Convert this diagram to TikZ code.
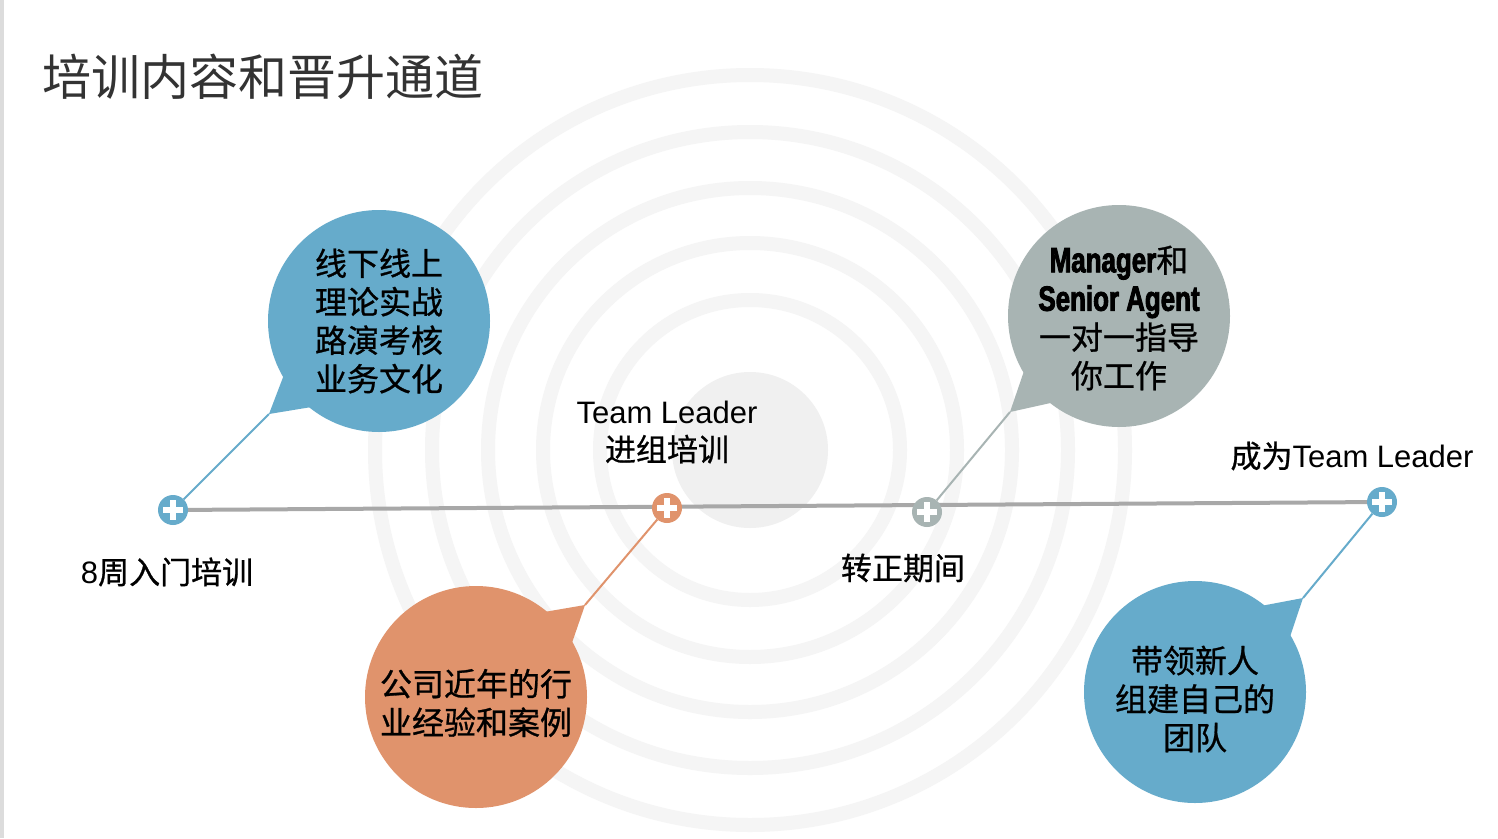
\documentclass[tikz,border=0pt]{standalone}
\usepackage{fontspec}
\setmainfont{Liberation Sans}
\newfontfamily\cjk[FakeBold=0.8]{Noto Sans CJK SC}
\newfontfamily\titlefont{Noto Sans CJK SC}
\newfontfamily\impactfont[FakeStretch=0.74,FakeBold=2.5]{Liberation Sans}
\usetikzlibrary{calc}

\definecolor{stageblue}{HTML}{66ABCB}
\definecolor{stageorange}{HTML}{E0936C}
\definecolor{stagegray}{HTML}{A8B4B3}
\definecolor{linegray}{HTML}{A8A8A8}
\definecolor{ringgray}{HTML}{F5F5F5}
\definecolor{diskgray}{HTML}{F0F0F0}
\definecolor{edgegray}{HTML}{DCDCDC}
\definecolor{titlegray}{HTML}{333333}

\begin{document}
\begin{tikzpicture}[x=1pt, y=-1pt,
    ring/.style={draw=ringgray, line width=14pt},
    stagedot/.style={circle, fill=#1, minimum size=30pt, inner sep=0pt,
      path picture={
        \fill[white] ([xshift=-10pt,yshift=-3pt]path picture bounding box.center) rectangle ++(20pt,6pt);
        \fill[white] ([xshift=-3pt,yshift=-10pt]path picture bounding box.center) rectangle ++(6pt,20pt);}},
    bubble/.style={circle, fill=#1, minimum size=222pt, inner sep=0pt},
    bubbletext/.style={align=center, inner sep=0pt, font=\cjk\fontsize{32}{38.5}\selectfont},
    link/.style={draw=#1, line width=2pt},
    stagelabel/.style={font=\fontsize{31}{38}\selectfont, align=center, inner sep=0pt}]

    \useasboundingbox (0,0) rectangle (1498,838);
    \fill[white] (0,0) rectangle (1498,838);
    \fill[edgegray] (0,0) rectangle (4,838);

    % rings behind the timeline
    \coordinate (hub) at (750,450);
    \fill[diskgray] (hub) circle[radius=78pt];
    \foreach \r in {150,207,262,318,375}
      \draw[ring] (hub) circle[radius=\r pt];

    \node[font=\titlefont\fontsize{49}{49}\selectfont, text=titlegray, anchor=west, inner sep=0pt] (title) at (42,77) {培训内容和晋升通道};

    % timeline
    \node[stagedot=stageblue] (m1) at (173,510) {};
    \node[stagedot=stageblue] (m4) at (1382,502) {};
    \draw[linegray, line width=4pt] (m1) -- (m4);
    \node[stagedot=stageorange] (m2) at (667,508) {};
    \node[stagedot=stagegray] (m3) at (927,512) {};

    \coordinate (t1) at (269,414);
    \coordinate (t2) at (585,605);
    \coordinate (t3) at (1010,412);
    \coordinate (t4) at (1303,598);

    % bubbles
    \node[bubble=stageblue] (b1) at (379,321) {};
    \fill[stageblue] ($(b1)+(205:100pt)$) -- (t1) -- ($(b1)+(237:100pt)$) -- cycle;
    \node[bubble=stageorange] (b2) at (476,697) {};
    \fill[stageorange] ($(b2)+(24:100pt)$) -- (t2) -- ($(b2)+(56:100pt)$) -- cycle;
    \node[bubble=stagegray] (b3) at (1119,316) {};
    \fill[stagegray] ($(b3)+(205:100pt)$) -- (t3) -- ($(b3)+(237:100pt)$) -- cycle;
    \node[bubble=stageblue] (b4) at (1195,692) {};
    \fill[stageblue] ($(b4)+(25:100pt)$) -- (t4) -- ($(b4)+(57:100pt)$) -- cycle;

    \node[bubbletext] (b1text) at (b1.center) {线下线上\\理论实战\\路演考核\\业务文化};
    \node[bubbletext] (b2text) at ([yshift=-6pt]b2.center) {公司近年的行\\业经验和案例};
    \node[bubbletext] (b3text) at ([yshift=-2pt]b3.center) {{\impactfont\bfseries\fontsize{35}{38.5}\selectfont Manager}和\\{\impactfont\bfseries\fontsize{35}{38.5}\selectfont Senior Agent}\\一对一指导\\你工作};
    \node[bubbletext] (b4text) at ([yshift=-7pt]b4.center) {带领新人\\组建自己的\\团队};

    \draw[link=stageblue] (t1) -- (m1);
    \draw[link=stageorange] (t2) -- (m2);
    \draw[link=stagegray] (t3) -- (m3);
    \draw[link=stageblue] (t4) -- (m4);

    % stage labels
    \node[stagelabel] (l1) at (167,572) {8{\cjk 周入门培训}};
    \node[stagelabel] (l2) at (667,432) {Team Leader\\{\cjk 进组培训}};
    \node[stagelabel] (l3) at (903,568) {\cjk 转正期间};
    \node[stagelabel] (l4) at (1352,456) {{\cjk 成为}Team Leader};
\end{tikzpicture}
\end{document}
